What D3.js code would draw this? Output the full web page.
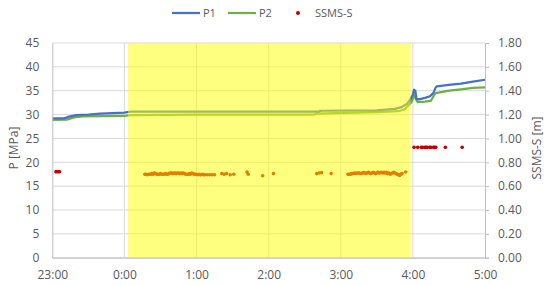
<!DOCTYPE html>
<html>
<head>
<meta charset="utf-8">
<script src="https://cdn.jsdelivr.net/npm/d3@7"></script>
<style>
  body { margin: 0; background: #fff; }
  text { font-family: "Open Sans", sans-serif; fill: #595959; }
</style>
</head>
<body>
<svg id="chart" width="550" height="285"></svg>
<script>
/* Data */
var xTicks = ["23:00", "0:00", "1:00", "2:00", "3:00", "4:00", "5:00"];
var pTicks = [0, 5, 10, 15, 20, 25, 30, 35, 40, 45];
var sTicks = [0, 0.2, 0.4, 0.6, 0.8, 1.0, 1.2, 1.4, 1.6, 1.8];
var band = ["0:03", "3:58"];

var p1 = [
  ["23:00", 29.2], ["23:10", 29.2], ["23:13", 29.5], ["23:20", 29.9], ["23:30", 30.0],
  ["23:40", 30.2], ["0:00", 30.4], ["0:05", 30.6], ["1:00", 30.6], ["2:00", 30.6],
  ["2:42", 30.6], ["2:43", 30.8], ["3:30", 30.9], ["3:45", 31.2], ["3:50", 31.5],
  ["3:55", 32.2], ["3:58", 33.2], ["4:00", 34.2], ["4:01", 35.2], ["4:02", 35.0],
  ["4:03", 33.3], ["4:05", 33.2], ["4:10", 33.5], ["4:14", 33.8], ["4:17", 34.5],
  ["4:19", 35.7], ["4:20", 35.9], ["4:30", 36.2], ["4:40", 36.5], ["4:50", 36.9],
  ["5:00", 37.3]
];

var p2 = [
  ["23:00", 28.9], ["23:12", 28.95], ["23:18", 29.4], ["23:25", 29.6], ["0:00", 29.7],
  ["0:05", 29.9], ["1:00", 30.0], ["2:00", 30.0], ["2:38", 30.0], ["2:40", 30.2],
  ["3:30", 30.5], ["3:48", 30.7], ["3:53", 31.1], ["3:56", 31.8], ["3:59", 32.7],
  ["4:01", 34.1], ["4:02", 33.5], ["4:04", 32.6], ["4:10", 32.7], ["4:15", 32.9],
  ["4:17", 33.8], ["4:19", 34.5], ["4:30", 35.0], ["4:40", 35.3], ["4:50", 35.6],
  ["5:00", 35.7]
];

var ssms = [
  ["23:03", 0.72], ["23:04", 0.72], ["23:05", 0.72], ["23:06", 0.72],
  ["0:17", 0.70], ["0:18", 0.70], ["0:19", 0.695], ["0:20", 0.70], ["0:21", 0.70],
  ["0:22", 0.70], ["0:23", 0.705], ["0:24", 0.70], ["0:25", 0.71], ["0:26", 0.705],
  ["0:27", 0.70], ["0:28", 0.70], ["0:29", 0.70], ["0:30", 0.705], ["0:31", 0.70],
  ["0:32", 0.70], ["0:33", 0.70], ["0:34", 0.705], ["0:35", 0.70], ["0:36", 0.70],
  ["0:37", 0.705], ["0:38", 0.71], ["0:39", 0.71], ["0:40", 0.705], ["0:41", 0.71],
  ["0:42", 0.71], ["0:43", 0.705], ["0:44", 0.71], ["0:45", 0.71], ["0:46", 0.705],
  ["0:47", 0.71], ["0:48", 0.705], ["0:49", 0.71], ["0:50", 0.705], ["0:51", 0.70],
  ["0:52", 0.70], ["0:53", 0.70], ["0:54", 0.705], ["0:55", 0.70], ["0:56", 0.71],
  ["0:57", 0.705], ["0:58", 0.70], ["0:59", 0.70], ["1:00", 0.70], ["1:01", 0.695],
  ["1:02", 0.70], ["1:03", 0.695], ["1:04", 0.695], ["1:05", 0.70], ["1:06", 0.695],
  ["1:07", 0.695], ["1:09", 0.695], ["1:11", 0.695], ["1:13", 0.695], ["1:15", 0.695],
  ["1:21", 0.705], ["1:23", 0.70], ["1:25", 0.705], ["1:28", 0.695], ["1:31", 0.70],
  ["1:42", 0.718], ["1:43", 0.70], ["1:55", 0.687], ["2:04", 0.705],
  ["2:40", 0.705], ["2:42", 0.71], ["2:44", 0.713], ["2:52", 0.705],
  ["3:06", 0.70], ["3:07", 0.70], ["3:08", 0.70], ["3:09", 0.705], ["3:10", 0.705],
  ["3:11", 0.707], ["3:12", 0.71], ["3:13", 0.707], ["3:14", 0.71], ["3:15", 0.71],
  ["3:16", 0.707], ["3:17", 0.705], ["3:18", 0.71], ["3:19", 0.713], ["3:20", 0.71],
  ["3:21", 0.707], ["3:22", 0.71], ["3:23", 0.715], ["3:24", 0.71], ["3:25", 0.705],
  ["3:26", 0.71], ["3:27", 0.715], ["3:28", 0.71], ["3:29", 0.705], ["3:30", 0.71],
  ["3:31", 0.715], ["3:32", 0.71], ["3:33", 0.713], ["3:34", 0.717], ["3:35", 0.71],
  ["3:36", 0.715], ["3:37", 0.71], ["3:38", 0.715], ["3:39", 0.705], ["3:40", 0.71],
  ["3:41", 0.70], ["3:42", 0.705], ["3:43", 0.71], ["3:44", 0.715], ["3:45", 0.71],
  ["3:46", 0.705], ["3:47", 0.70], ["3:48", 0.695], ["3:49", 0.69], ["3:50", 0.70],
  ["3:51", 0.705], ["3:54", 0.718],
  ["4:01", 0.925], ["4:04", 0.925], ["4:07", 0.925], ["4:08", 0.925], ["4:10", 0.925],
  ["4:11", 0.925], ["4:12", 0.925], ["4:14", 0.925], ["4:15", 0.925], ["4:17", 0.925],
  ["4:18", 0.925], ["4:19", 0.925], ["4:27", 0.925], ["4:41", 0.925]
];

/* time "H:MM" -> Date (hours >= 12 belong to the evening before) */
function t(s) {
  var parts = s.split(":").map(Number);
  return new Date(2024, 0, parts[0] >= 12 ? 1 : 2, parts[0], parts[1]);
}

var plotLeft = 52.3, plotRight = 485, plotTop = 43, plotBottom = 257.7;

var x = d3.scaleTime()
  .domain([t(xTicks[0]), t(xTicks[xTicks.length - 1])])
  .range([plotLeft, plotRight]);
var yP = d3.scaleLinear().domain([0, 45]).range([plotBottom, plotTop]);
var yS = d3.scaleLinear().domain([0, 1.8]).range([plotBottom, plotTop]);

var svg = d3.select("svg#chart");

// grid
svg.append("g")
  .selectAll("line")
  .data(pTicks)
  .enter()
  .append("line")
  .attr("x1", plotLeft).attr("x2", plotRight)
  .attr("y1", d => yP(d)).attr("y2", d => yP(d))
  .attr("stroke", "#d9d9d9");

svg.append("g")
  .selectAll("line")
  .data(xTicks.slice(1, -1))
  .enter()
  .append("line")
  .attr("x1", d => x(t(d))).attr("x2", d => x(t(d)))
  .attr("y1", plotTop).attr("y2", plotBottom)
  .attr("stroke", "#d9d9d9");

// lines
var line = d3.line()
  .x(d => x(t(d[0])))
  .y(d => yP(d[1]));

svg.append("path")
  .datum(p2)
  .attr("d", line)
  .attr("fill", "none")
  .attr("stroke", "#70AD47")
  .attr("stroke-width", 2.25)
  .attr("stroke-linejoin", "round");

svg.append("path")
  .datum(p1)
  .attr("d", line)
  .attr("fill", "none")
  .attr("stroke", "#4472C4")
  .attr("stroke-width", 2.25)
  .attr("stroke-linejoin", "round");

// SSMS-S points
svg.append("g")
  .selectAll("circle")
  .data(ssms)
  .enter()
  .append("circle")
  .attr("cx", d => x(t(d[0])))
  .attr("cy", d => yS(d[1]))
  .attr("r", 1.8)
  .attr("fill", "#C00000");

// yellow band on top
svg.append("rect")
  .attr("x", x(t(band[0])))
  .attr("width", x(t(band[1])) - x(t(band[0])))
  .attr("y", plotTop)
  .attr("height", plotBottom - plotTop)
  .attr("fill", "#ffff00")
  .attr("fill-opacity", 0.5);

// axes
var axisLeft = svg.append("g")
  .attr("transform", `translate(${plotLeft},0)`)
  .call(d3.axisLeft(yP).tickValues(pTicks).tickSize(0).tickPadding(13));

var axisRight = svg.append("g")
  .attr("transform", `translate(${plotRight},0)`)
  .call(d3.axisRight(yS).tickValues(sTicks).tickSize(4).tickPadding(9)
    .tickFormat(d3.format(".2f")));

var axisBottom = svg.append("g")
  .attr("transform", `translate(0,${plotBottom})`)
  .call(d3.axisBottom(x).tickValues(xTicks.map(t)).tickSize(0).tickPadding(13)
    .tickFormat(d3.timeFormat("%-H:%M")));

[axisLeft, axisRight, axisBottom].forEach(a => {
  a.select(".domain").attr("stroke", "#bfbfbf");
  a.selectAll(".tick line").attr("stroke", "#bfbfbf");
  a.selectAll("text")
    .attr("font-family", "Open Sans, sans-serif")
    .attr("font-size", 12)
    .attr("fill", "#595959");
});

// axis titles
svg.append("text")
  .attr("transform", "translate(18,148) rotate(-90)")
  .attr("text-anchor", "middle")
  .attr("font-size", 12)
  .text("P [MPa]");

svg.append("text")
  .attr("transform", "translate(541,148) rotate(-90)")
  .attr("text-anchor", "middle")
  .attr("font-size", 12)
  .text("SSMS-S [m]");

// legend
var legend = svg.append("g").attr("font-size", 11);
legend.append("line").attr("x1", 172).attr("x2", 200).attr("y1", 13).attr("y2", 13)
  .attr("stroke", "#4472C4").attr("stroke-width", 2.25);
legend.append("text").attr("x", 203).attr("y", 17).text("P1");
legend.append("line").attr("x1", 228).attr("x2", 256).attr("y1", 13).attr("y2", 13)
  .attr("stroke", "#70AD47").attr("stroke-width", 2.25);
legend.append("text").attr("x", 259).attr("y", 17).text("P2");
legend.append("circle").attr("cx", 298).attr("cy", 13).attr("r", 2)
  .attr("fill", "#C00000");
legend.append("text").attr("x", 315).attr("y", 17).text("SSMS-S");
</script>
</body>
</html>
